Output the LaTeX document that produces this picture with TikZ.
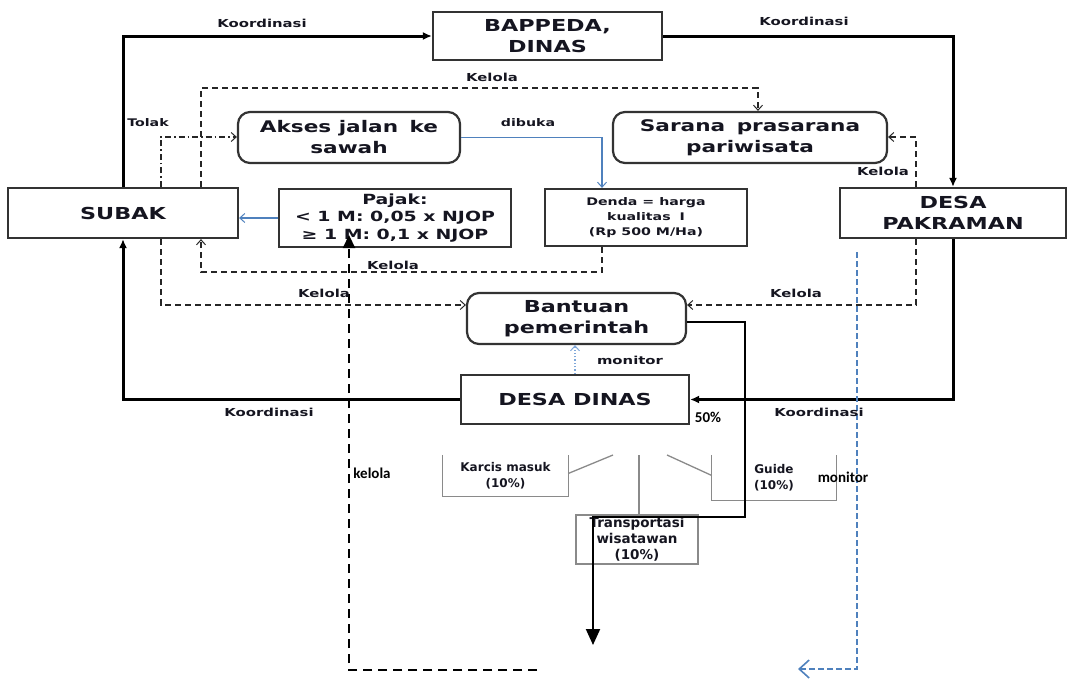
\documentclass[tikz,border=0pt]{standalone}
\usepackage{fontspec}
\usetikzlibrary{arrows.meta}
\newfontfamily\wbf[FakeStretch=1.35]{DejaVu Sans Bold}
\newfontfamily\tbf{DejaVu Sans Bold}
\newfontfamily\carl{Carlito Bold}
\definecolor{txt}{HTML}{151520}
\definecolor{bline}{HTML}{4F81BD}
\definecolor{mline}{HTML}{7FA7D9}
\definecolor{gbox}{HTML}{8A8A8A}
\begin{document}
\begin{tikzpicture}[x=1pt,y=-1pt,
  box/.style={draw=black!80, line width=2.2pt, align=center, text=txt, inner sep=0pt},
  rbox/.style={box, rounded corners=12pt},
  bigtxt/.style={font=\wbf\fontsize{16.5}{20.5}\selectfont},
  midtxt/.style={font=\wbf\fontsize{16}{21}\selectfont},
  lbl/.style={font=\wbf\fontsize{11}{13}\selectfont, text=txt, inner sep=0pt},
  clbl/.style={font=\carl\fontsize{15}{18}\selectfont, text=black, inner sep=0pt},
  smalltxt/.style={font=\tbf\fontsize{12}{16}\selectfont, text=txt, align=center, inner sep=0pt},
  gline/.style={draw=gbox, line width=1.3pt},
  koord/.style={line width=3pt, -{Latex[length=9pt,width=8pt]}},
  kdash/.style={draw=black!85, line width=1.4pt, dash pattern=on 6pt off 4pt, -{Straight Barb[length=5pt,width=9pt,line width=1pt]}},
  tdd/.style={draw=black!85, line width=1.4pt, dash pattern=on 6pt off 3pt on 1.5pt off 3pt, -{Straight Barb[length=5pt,width=9pt,line width=1pt]}},
  bl/.style={draw=bline, line width=1.4pt, -{Straight Barb[length=5pt,width=9pt,line width=1pt]}},
  mdot/.style={draw=mline, line width=1.3pt, dotted, -{Straight Barb[length=5pt,width=9pt,line width=1pt]}},
  flow/.style={draw=black, line width=2pt, -{Triangle[length=16pt,width=14pt]}},
  tdash/.style={draw=black, line width=2.2pt, dash pattern=on 9pt off 6pt, -{Triangle[length=13pt,width=12pt]}},
  bdash/.style={draw=bline, line width=1.8pt, dash pattern=on 6pt off 3pt, -{Straight Barb[length=10pt,width=18pt,line width=1.6pt]}}
]
\useasboundingbox (0,0) rectangle (1074,678);

% main boxes
\node[box,bigtxt,minimum width=229pt,minimum height=48pt] (bappeda) at (547.5,36) {BAPPEDA,\\DINAS};
\node[box,bigtxt,minimum width=230pt,minimum height=50pt] (subak) at (123,213) {SUBAK};
\node[box,bigtxt,minimum width=226pt,minimum height=50pt] (pakraman) at (953,213) {DESA\\PAKRAMAN};
\node[box,bigtxt,minimum width=228pt,minimum height=49pt] (dinas) at (575,399.5) {DESA\ DINAS};
\node[rbox,midtxt,minimum width=222pt,minimum height=51pt] (akses) at (349,137.5) {Akses jalan\hspace{4pt} ke\\sawah};
\node[rbox,midtxt,minimum width=274pt,minimum height=51pt] (sarana) at (750,137.5) {Sarana\hspace{4pt} prasarana\\pariwisata};
\node[rbox,bigtxt,minimum width=219pt,minimum height=51pt] (bantuan) at (576.5,318.5) {Bantuan\\pemerintah};
\node[box,font=\wbf\fontsize{14}{17.5}\selectfont,minimum width=232pt,minimum height=58pt] (pajak) at (395,218) {Pajak:\\< 1 M: 0,05 x NJOP\\≥ 1 M: 0,1 x NJOP};
\node[box,font=\wbf\fontsize{10.5}{15}\selectfont,minimum width=202pt,minimum height=57pt] (denda) at (646,217.5) {Denda = harga\\kualitas\hspace{4pt} I\\(Rp 500 M/Ha)};

% small grey boxes
\node[smalltxt,minimum width=125pt,minimum height=41pt] (karcis) at (505.5,475.5) {Karcis masuk\\(10\%)};
\node[smalltxt,minimum width=124pt,minimum height=45pt] (guide) at (774,477.5) {Guide\\(10\%)};
\node[smalltxt,font=\tbf\fontsize{13.5}{16}\selectfont,draw=gbox,line width=1.3pt,minimum width=122pt,minimum height=49pt] (transport) at (637,539.5) {Transportasi\\wisatawan\\(10\%)};
\draw[gline] (karcis.north west) -- (karcis.south west) -- (karcis.south east) -- (karcis.north east);
\draw[gline] (guide.north west) -- (guide.south west) -- (guide.south east) -- (guide.north east);
\coordinate (dg1) at (613,455);
\coordinate (dg2) at (667,455);
\coordinate (dg3) at (639,455);
\draw[gline] ([yshift=2pt]karcis.east) -- (dg1);
\draw[gline] (dg2) -- ([yshift=2pt]guide.west);
\draw[gline] (dg3) -- (transport.north -| dg3);

% Koordinasi thick connectors
\draw[koord] (subak.north) |- (bappeda.west);
\draw[koord] (bappeda.east) -| (pakraman.north);
\draw[koord] (pakraman.south) |- (dinas.east);
\draw[koord] (dinas.west) -| (subak.south);

% Kelola dashed connectors
\coordinate (k1) at (201,88);
\coordinate (k2) at (758,88);
\draw[kdash] (subak.north -| k1) -- (k1) -- (k2) -- (sarana.north -| k2);
\coordinate (t1) at (161,137);
\draw[tdd] (subak.north -| t1) -- (t1) -- (akses.west |- t1);
\coordinate (b1) at (161,305);
\draw[kdash] (subak.south -| b1) -- (b1) -- (bantuan.west |- b1);
\coordinate (b2) at (916,305);
\draw[kdash] (pakraman.south -| b2) -- (b2) -- (bantuan.east |- b2);
\coordinate (s2) at (916,137);
\draw[kdash] (pakraman.north -| s2) -- (s2) -- (sarana.east |- s2);
\coordinate (d1) at (602,272);
\coordinate (d2) at (201,272);
\draw[kdash] (denda.south -| d1) -- (d1) -- (d2) -- (subak.south -| d2);

% blue connectors
\draw[bl] (pajak.west) -- (subak.east |- pajak.west);
\draw[bl] (akses.east) -| (denda.north -| d1);
\draw[mdot] (dinas.north) -- (dinas.north |- bantuan.south);

% black flow from Bantuan
\coordinate (f1) at (745,517);
\coordinate (f2) at (593,517);
\coordinate (fend) at (593,645);
\draw[flow] ([yshift=-3.5pt]bantuan.east) -| (f1) -- (f2) -- (fend);

% thick dashed kelola
\coordinate (kk0) at (537,670);
\coordinate (kk1) at (349,670);
\coordinate (ktip) at (349,235);
\draw[tdash] (kk0) -- (kk1) -- (ktip);

% blue dashed monitor
\coordinate (bb0) at (857,252);
\coordinate (bb1) at (857,669);
\coordinate (bb2) at (798,669);
\draw[bdash] (bb0) -- (bb1) -- (bb2);

% labels
\node[lbl] (lk1) at (262,23) {Koordinasi};
\node[lbl] (lk2) at (804,21) {Koordinasi};
\node[lbl] (lk3) at (269,412) {Koordinasi};
\node[lbl] (lk4) at (819,412) {Koordinasi};
\node[lbl] (lke1) at (492,77) {Kelola};
\node[lbl,font=\wbf\fontsize{10.5}{13}\selectfont] (ltolak) at (148,123) {Tolak};
\node[lbl,font=\wbf\fontsize{10.5}{13}\selectfont] (ldibuka) at (528,123) {dibuka};
\node[lbl] (lke2) at (883,171) {Kelola};
\node[lbl] (lke3) at (393,265) {Kelola};
\node[lbl] (lke4) at (324,293) {Kelola};
\node[lbl] (lke5) at (796,293) {Kelola};
\node[lbl] (lmon) at (630,360) {monitor};
\node[clbl] (l50) at (708,417) {50\%};
\node[clbl] (lkel) at (372,473) {kelola};
\node[clbl] (lmon2) at (843,477) {monitor};
\end{tikzpicture}
\end{document}
